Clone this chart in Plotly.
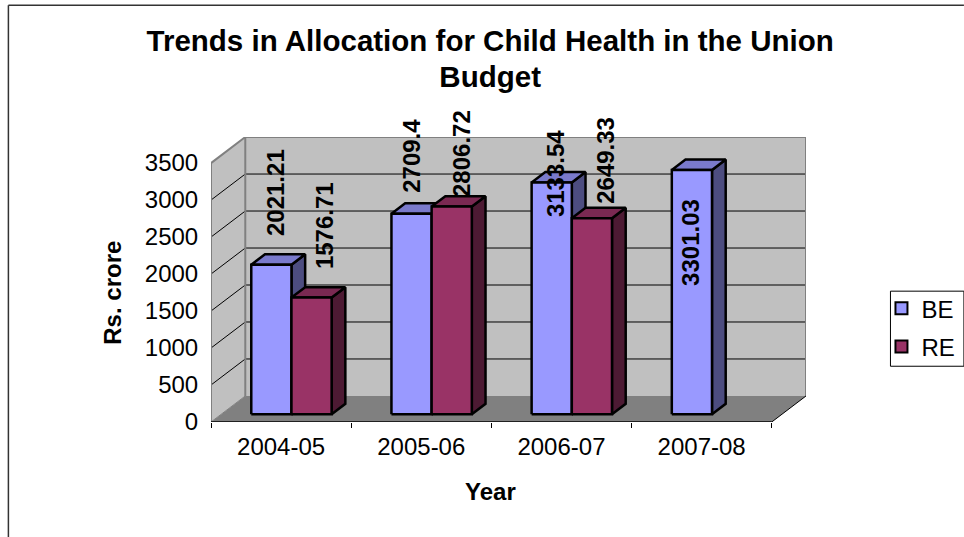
import plotly.graph_objects as go

# ---- data ----
categories = ["2004-05", "2005-06", "2006-07", "2007-08"]
be_values = [2021.21, 2709.4, 3133.54, 3301.03]
re_values = [1576.71, 2806.72, 2649.33, None]
y_ticks = [0, 500, 1000, 1500, 2000, 2500, 3000, 3500]

# label placement relative to each bar top (pixels), as in the original manual layout
be_shift_x = [4, 0, 4, -1]
be_shift_y = [26.5, 18.5, -36.5, -117.5]
re_shift_x = [13, 9.7, 13.7, 0]
re_shift_y = [26.5, 7.5, 12.5, 0]

W, H = 964, 537
L, R, T, B = 210.7, 806.0, 137.0, 421.7
CAT_PX = 140.25
Y_PX = 0.0739
x_max = (R - L) / CAT_PX
wall_dx = 34.3 / CAT_PX
wall_dy = 26.0 / Y_PX
y_max = (B - T) / Y_PX
bar_w = 40.2 / CAT_PX
bar_gap = 30.0 / CAT_PX
depth_front = 0.3
depth_back = 0.7
FONT = "Liberation Sans, Arial, sans-serif"
TEXT = dict(family=FONT, size=24, color="#000000")


def px(x):
    return (x - L) / (R - L)


def py(y):
    return (B - y) / (B - T)


def poly(xs, ys, fill, line="rgba(0,0,0,0)", width=0, mode="lines", closed=True):
    kw = dict(fill="toself", fillcolor=fill) if closed else {}
    return go.Scatter(x=xs, y=ys, mode=mode, line=dict(color=line, width=width),
                      showlegend=False, hoverinfo="skip", cliponaxis=False, **kw)


fig = go.Figure()

# walls and floor
fig.add_trace(poly([0, 4, 4 + wall_dx, wall_dx, 0], [0, 0, wall_dy, wall_dy, 0], "#808080"))
fig.add_trace(poly([0, 0, wall_dx, wall_dx, 0], [0, 3500, 3500 + wall_dy, wall_dy, 0], "#C0C0C0"))
fig.add_trace(poly([wall_dx, 4 + wall_dx, 4 + wall_dx, wall_dx, wall_dx],
                   [wall_dy, wall_dy, 3500 + wall_dy, 3500 + wall_dy, wall_dy], "#C0C0C0"))

# gridlines along side wall and back wall
for v in y_ticks[1:-1]:
    fig.add_trace(poly([0, wall_dx, 4 + wall_dx], [v, v + wall_dy, v + wall_dy],
                       None, "#000000", 1, closed=False))

# wall outlines
fig.add_trace(poly([0, 0, wall_dx, 4 + wall_dx, 4 + wall_dx],
                   [0, 3500, 3500 + wall_dy, 3500 + wall_dy, wall_dy],
                   None, "#808080", 2, closed=False))
fig.add_trace(poly([wall_dx, wall_dx], [wall_dy, 3500 + wall_dy], None, "#808080", 2, closed=False))
fig.add_trace(poly([0, wall_dx], [0, wall_dy], None, "#808080", 1, closed=False))
fig.add_trace(poly([4, 4 + wall_dx], [0, wall_dy], None, "#000000", 1, closed=False))
fig.add_trace(poly([0, 4], [0, 0], None, "#000000", 1.5, closed=False))

# y tick marks
tick_len = 5 / CAT_PX
for v in y_ticks:
    fig.add_trace(poly([-tick_len, 0], [v, v], None, "#000000", 1, closed=False))


def add_bar(cat, idx, value, front, top, side):
    x0 = cat + bar_gap + wall_dx * depth_front + idx * bar_w
    x1 = x0 + bar_w
    y0 = wall_dy * depth_front
    y1 = y0 + value
    ddx = wall_dx * (depth_back - depth_front)
    ddy = wall_dy * (depth_back - depth_front)
    fig.add_trace(poly([x1, x1 + ddx, x1 + ddx, x1, x1], [y0, y0 + ddy, y1 + ddy, y1, y0],
                       side, "#000000", 2.5))
    fig.add_trace(poly([x0, x1, x1 + ddx, x0 + ddx, x0], [y1, y1, y1 + ddy, y1 + ddy, y1],
                       top, "#000000", 2.5))
    fig.add_trace(poly([x0, x1, x1, x0, x0], [y0, y0, y1, y1, y0], front, "#000000", 2.5))
    return (x0 + x1) / 2, y1


annotations = []


def label(xc, yt, value, sx, sy):
    annotations.append(dict(x=xc, y=yt, xref="x", yref="y", text="<b>%s</b>" % value, textangle=-90,
                            showarrow=False, xanchor="center", yanchor="bottom",
                            xshift=sx, yshift=sy, font=TEXT))


for i in range(len(categories)):
    xc, yt = add_bar(i, 0, be_values[i], "#9999FF", "#7A7ACC", "#4D4D80")
    label(xc, yt, be_values[i], be_shift_x[i], be_shift_y[i])
    if re_values[i] is not None:
        xc, yt = add_bar(i, 1, re_values[i], "#993366", "#7A2952", "#4D1A33")
        label(xc, yt, re_values[i], re_shift_x[i], re_shift_y[i])

# legend entries
for name, color, group in [("BE", "#9999FF", "a"), ("RE", "#993366", "b")]:
    fig.add_trace(go.Scatter(x=[None], y=[None], mode="markers", name=name, legendgroup=group,
                             marker=dict(symbol="square", size=14, color=color,
                                         line=dict(color="#000000", width=2))))

annotations += [
    dict(x=px(112.7), y=py(292.5), xref="paper", yref="paper", text="<b>Rs. crore</b>", textangle=-90,
         showarrow=False, font=TEXT, xanchor="center", yanchor="middle"),
    dict(x=px(490.7), y=py(491), xref="paper", yref="paper", text="<b>Year</b>",
         showarrow=False, font=TEXT, xanchor="center", yanchor="middle"),
]

frame = dict(type="line", xref="paper", yref="paper", line=dict(color="#333333", width=1.5))

fig.update_layout(
    width=W, height=H,
    margin=dict(l=L, r=W - R, t=T, b=H - B, pad=0, autoexpand=False),
    paper_bgcolor="#FFFFFF", plot_bgcolor="#FFFFFF",
    hovermode=False,
    title=dict(text='<b><span style="font-size:29.5px">Trends in Allocation for Child Health in the Union'
                    '<br>Budget</span></b>',
               x=px(490), xref="paper", xanchor="center",
               y=1 - 51 / H, yref="container",
               font=dict(family=FONT, size=28, color="#000000")),
    font=TEXT,
    xaxis=dict(range=[0, x_max], tickmode="array", tickvals=[i + 0.5 for i in range(4)],
               ticktext=categories, ticks="outside", ticklen=3, tickcolor="rgba(0,0,0,0)",
               showgrid=False, zeroline=False, showline=False,
               minor=dict(tickmode="array", tickvals=[0, 1, 2, 3, 4], ticks="outside", ticklen=5,
                          tickcolor="#000000", tickwidth=1, showgrid=False),
               tickfont=TEXT),
    yaxis=dict(range=[0, y_max], tickmode="array", tickvals=y_ticks, ticks="outside", ticklen=7,
               tickcolor="rgba(0,0,0,0)", showgrid=False, zeroline=False, showline=False,
               tickfont=TEXT),
    legend=dict(x=px(881.5), y=py(286), xanchor="left", yanchor="top", xref="paper", yref="paper",
                borderwidth=0, bgcolor="rgba(0,0,0,0)",
                tracegroupgap=4, itemsizing="constant", itemwidth=30,
                font=TEXT),
    annotations=annotations,
    shapes=[
        dict(frame, x0=px(8), x1=px(964), y0=py(5.5), y1=py(5.5)),
        dict(frame, x0=px(8), x1=px(8), y0=py(5.5), y1=py(537)),
        dict(type="rect", xref="paper", yref="paper", x0=px(890.5), x1=px(964), y0=py(366), y1=py(291),
             line=dict(color="#000000", width=1), fillcolor="#FFFFFF", layer="below"),
    ],
)

fig.write_html("out.html", post_script="document.body.style.margin='0';document.body.style.overflow='hidden';",
               config={"displayModeBar": False})
